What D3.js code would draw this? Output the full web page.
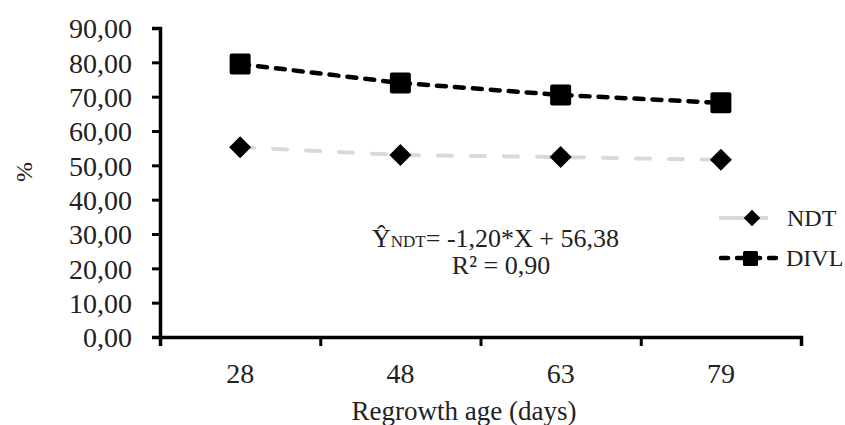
<!DOCTYPE html>
<html>
<head>
<meta charset="utf-8">
<script src="https://cdn.jsdelivr.net/npm/d3@7"></script>
<style>
  body { margin: 0; background: #fff; }
  .axis path, .axis line { stroke: #000; }
</style>
</head>
<body>
<div id="chart"></div>
<script>
// data
var ages = ["28", "48", "63", "79"];
var ndt = [55.3, 53.0, 52.4, 51.6];
var divl = [79.5, 74.0, 70.5, 68.2];
var yTicks = [0, 10, 20, 30, 40, 50, 60, 70, 80, 90];

var serif = "'Liberation Serif', 'Times New Roman', Times, 'DejaVu Serif', serif";

var width = 845, height = 425;
var plot = {left: 160, right: 801, top: 28, bottom: 337};

var svg = d3.select("#chart").append("svg")
    .attr("width", width)
    .attr("height", height)
    .style("font-family", serif);

// comma as decimal mark
var locale = d3.formatLocale({decimal: ",", thousands: ".", grouping: [3], currency: ["", ""]});
var fmt = locale.format(".2f");

var x = d3.scaleBand().domain(ages).range([plot.left, plot.right]).padding(0);
var xEdge = d3.scaleLinear().domain([0, ages.length]).range([plot.left, plot.right]);
var y = d3.scaleLinear().domain([0, 90]).range([plot.bottom, plot.top]);

function cx(d, i) { return x(ages[i]) + x.bandwidth() / 2; }

// y axis
var yAxis = svg.append("g")
    .attr("class", "axis")
    .attr("transform", "translate(" + plot.left + ",0)")
    .call(d3.axisLeft(y).tickValues(yTicks).tickFormat(fmt).tickSize(8).tickPadding(20));
yAxis.attr("font-family", null);
yAxis.select(".domain").attr("stroke-width", 3.5);
yAxis.selectAll(".tick line").attr("stroke-width", 3);
yAxis.selectAll("text").attr("font-size", 28).attr("fill", "#222").attr("dy", "0.35em")
    .style("font-family", serif);

// x axis: boundary ticks
var xAxisEdge = svg.append("g")
    .attr("class", "axis")
    .attr("transform", "translate(0," + plot.bottom + ")")
    .call(d3.axisBottom(xEdge).ticks(ages.length).tickFormat("").tickSize(9).tickSizeOuter(9));
xAxisEdge.select(".domain").attr("stroke-width", 3.5);
xAxisEdge.selectAll(".tick line").attr("stroke-width", 3);

// x axis: category labels
var xAxis = svg.append("g")
    .attr("transform", "translate(0," + plot.bottom + ")")
    .call(d3.axisBottom(x).tickSize(0).tickPadding(26));
xAxis.attr("font-family", null);
xAxis.select(".domain").remove();
xAxis.selectAll("text").attr("font-size", 28).attr("fill", "#222")
    .style("font-family", serif);

// axis titles
svg.append("text")
    .attr("x", 464)
    .attr("y", 420)
    .attr("text-anchor", "middle")
    .attr("font-size", 27)
    .attr("fill", "#222")
    .text("Regrowth age (days)");

svg.append("text")
    .attr("transform", "translate(32,172) rotate(-90)")
    .attr("text-anchor", "middle")
    .attr("font-size", 24)
    .attr("fill", "#222")
    .text("%");

// lines
var line = d3.line()
    .x(function(d, i) { return cx(d, i); })
    .y(function(d) { return y(d); });

svg.append("path")
    .datum(ndt)
    .attr("fill", "none")
    .attr("stroke", "#d9d9d9")
    .attr("stroke-width", 4)
    .attr("stroke-linecap", "round")
    .attr("stroke-dasharray", "14,19")
    .attr("d", line);

svg.append("path")
    .datum(divl)
    .attr("fill", "none")
    .attr("stroke", "#000")
    .attr("stroke-width", 4.5)
    .attr("stroke-linecap", "round")
    .attr("stroke-dasharray", "9,9")
    .attr("d", line);

// markers
var diamond = "M0,-11L11,0L0,11L-11,0Z";

svg.selectAll(".ndt")
    .data(ndt)
    .enter().append("path")
    .attr("class", "ndt")
    .attr("d", diamond)
    .attr("fill", "#000")
    .attr("transform", function(d, i) { return "translate(" + cx(d, i) + "," + y(d) + ")"; });

svg.selectAll(".divl")
    .data(divl)
    .enter().append("rect")
    .attr("class", "divl")
    .attr("x", function(d, i) { return cx(d, i) - 10.5; })
    .attr("y", function(d) { return y(d) - 10.5; })
    .attr("width", 21)
    .attr("height", 21)
    .attr("rx", 2)
    .attr("fill", "#000");

// equation
var eq = svg.append("text")
    .attr("x", 372)
    .attr("y", 247)
    .attr("font-size", 26)
    .attr("fill", "#222");
eq.append("tspan").text("\u0176");
eq.append("tspan").attr("font-size", 17).text("NDT");
eq.append("tspan").text("= -1,20*X + 56,38");

svg.append("text")
    .attr("x", 501)
    .attr("y", 274)
    .attr("text-anchor", "middle")
    .attr("font-size", 26)
    .attr("fill", "#222")
    .text("R\u00b2 = 0,90");

// legend
var legend = svg.append("g");

legend.append("line")
    .attr("x1", 719).attr("x2", 768)
    .attr("y1", 218).attr("y2", 218)
    .attr("stroke", "#d9d9d9")
    .attr("stroke-width", 4);
legend.append("path")
    .attr("d", diamond)
    .attr("transform", "translate(752,218) scale(0.75)")
    .attr("fill", "#000");
legend.append("text")
    .attr("x", 787).attr("y", 226)
    .attr("font-size", 24)
    .attr("fill", "#222")
    .text("NDT");

legend.append("line")
    .attr("x1", 721).attr("x2", 782)
    .attr("y1", 258).attr("y2", 258)
    .attr("stroke", "#000")
    .attr("stroke-width", 4.5)
    .attr("stroke-linecap", "round")
    .attr("stroke-dasharray", "7,9");
legend.append("rect")
    .attr("x", 743).attr("y", 251)
    .attr("width", 15).attr("height", 15)
    .attr("rx", 1.5)
    .attr("fill", "#000");
legend.append("text")
    .attr("x", 786).attr("y", 266)
    .attr("font-size", 24)
    .attr("fill", "#222")
    .text("DIVL");
</script>
</body>
</html>
